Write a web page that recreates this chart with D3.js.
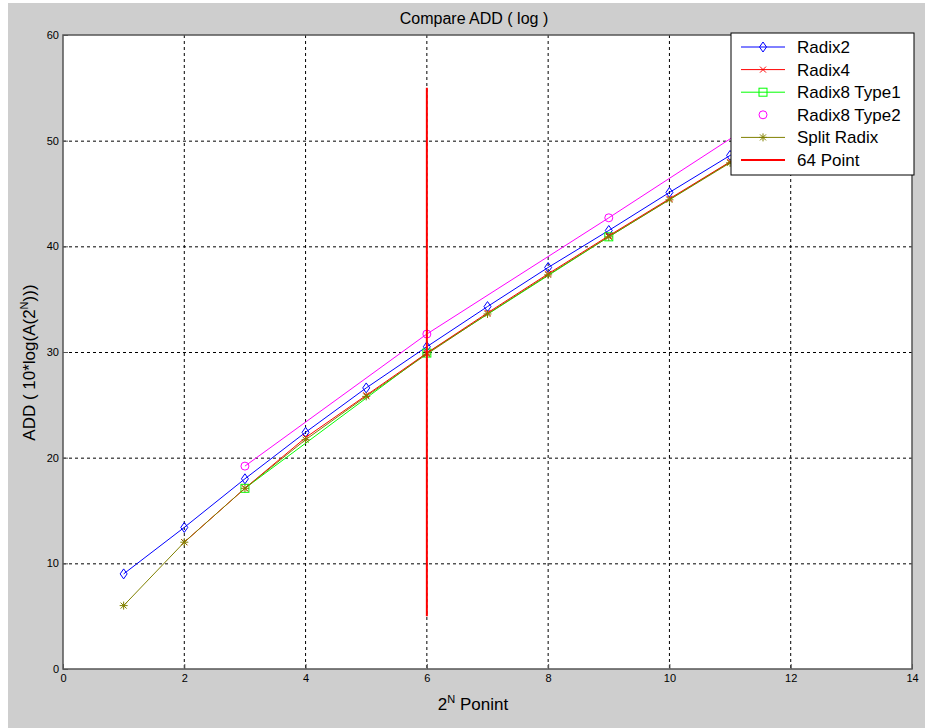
<!DOCTYPE html>
<html>
<head>
<meta charset="utf-8">
<script src="https://cdn.jsdelivr.net/npm/d3@7"></script>
<style>
  body { margin: 0; background: #fff; }
  svg { display: block; font-family: "Liberation Sans", Arial, sans-serif; }
</style>
</head>
<body>
<div id="chart"></div>
<script>
// data
var xRadix2 = [1, 2, 3, 4, 5, 6, 7, 8, 9, 10, 11, 12];
var radix2 = [9.0, 13.4, 18.0, 22.4, 26.6, 30.5, 34.3, 38.0, 41.5, 45.1, 48.6, 52.1];
var xRadix4 = [2, 3, 4, 5, 6, 7, 8, 9, 10, 11, 12];
var radix4 = [12.0, 17.1, 21.9, 25.9, 29.9, 33.7, 37.4, 41.0, 44.5, 48.0, 51.5];
var xRadix8 = [3, 6, 9, 12];
var radix8t1 = [17.1, 29.9, 40.9, 51.5];
var radix8t2 = [19.2, 31.7, 42.7, 53.9];
var xSplit = [1, 2, 3, 4, 5, 6, 7, 8, 9, 10, 11, 12];
var split = [6.0, 12.0, 17.1, 21.7, 25.8, 29.8, 33.6, 37.3, 40.9, 44.4, 47.9, 51.4];
var pointLineX = 6, pointLineY = [5, 55];
var xTicks = [0, 2, 4, 6, 8, 10, 12, 14];
var yTicks = [0, 10, 20, 30, 40, 50, 60];
var legendNames = ["Radix2", "Radix4", "Radix8 Type1", "Radix8 Type2", "Split Radix", "64 Point"];

var width = 925, height = 728;
var svg = d3.select("#chart").append("svg")
    .attr("width", width)
    .attr("height", height);

svg.append("rect").attr("x", 8).attr("y", 3).attr("width", width - 8).attr("height", height - 3)
    .attr("fill", "#cecece");

var pLeft = 63, pRight = 912, pTop = 35, pBottom = 669;
var x = d3.scaleLinear().domain([0, 14]).range([pLeft, pRight]);
var y = d3.scaleLinear().domain([0, 60]).range([pBottom, pTop]);

svg.append("rect").attr("x", pLeft).attr("y", pTop).attr("width", pRight - pLeft).attr("height", pBottom - pTop)
    .attr("fill", "#fff");

// grid
var grid = svg.append("g");
grid.selectAll("line.vx").data(xTicks.slice(1, -1)).enter().append("line")
    .attr("x1", d => x(d)).attr("x2", d => x(d)).attr("y1", pTop).attr("y2", pBottom)
    .attr("stroke", "#000").attr("stroke-width", 1).attr("stroke-dasharray", "3,3");
grid.selectAll("line.hy").data(yTicks.slice(1, -1)).enter().append("line")
    .attr("y1", d => y(d) + 0.5).attr("y2", d => y(d) + 0.5).attr("x1", pLeft).attr("x2", pRight)
    .attr("stroke", "#000").attr("stroke-width", 1).attr("stroke-dasharray", "3,3");

// axes, matlab style inward ticks
var xAxis = d3.axisBottom(x).tickValues(xTicks).tickSize(-5).tickPadding(4).tickSizeOuter(0);
var yAxis = d3.axisLeft(y).tickValues(yTicks).tickSize(-5).tickPadding(4).tickSizeOuter(0);
var gx = svg.append("g").attr("transform", "translate(0," + pBottom + ")").call(xAxis);
var gy = svg.append("g").attr("transform", "translate(" + pLeft + ",0)").call(yAxis);
[gx, gy].forEach(function(g) {
  g.select(".domain").remove();
  g.selectAll("line").attr("stroke", "#555");
  g.selectAll("text").attr("font-size", 11).attr("fill", "#000")
      .style("font-stretch", "condensed").attr("font-family", "'Liberation Sans Narrow', 'Liberation Sans', sans-serif");
});
gx.selectAll("text").attr("dy", "0.8em");
// box
svg.append("rect").attr("x", pLeft).attr("y", pTop).attr("width", pRight - pLeft).attr("height", pBottom - pTop)
    .attr("fill", "none").attr("stroke", "#555").attr("stroke-width", 1.5);

var lineGen = d3.line().x(d => x(d[0])).y(d => y(d[1]));
var plot = svg.append("g");

function series(xs, ys, color, marker, drawLine) {
  var pts = xs.map((v, i) => [v, ys[i]]);
  if (drawLine) plot.append("path").datum(pts).attr("d", lineGen)
      .attr("fill", "none").attr("stroke", color).attr("stroke-width", 1);
  var g = plot.append("g");
  pts.forEach(function(p) { drawMarker(g, x(p[0]), y(p[1]), color, marker); });
}

function drawMarker(g, cx, cy, color, marker) {
  if (marker == "diamond") {
    g.append("path").attr("d", "M" + cx + "," + (cy - 5) + "L" + (cx + 3.5) + "," + cy + "L" + cx + "," + (cy + 5) + "L" + (cx - 3.5) + "," + cy + "Z")
      .attr("fill", "none").attr("stroke", color);
  } else if (marker == "x") {
    g.append("path").attr("d", "M" + (cx - 3) + "," + (cy - 3) + "L" + (cx + 3) + "," + (cy + 3) + "M" + (cx - 3) + "," + (cy + 3) + "L" + (cx + 3) + "," + (cy - 3))
      .attr("stroke", color);
  } else if (marker == "square") {
    g.append("rect").attr("x", cx - 4).attr("y", cy - 4).attr("width", 8).attr("height", 8)
      .attr("fill", "none").attr("stroke", color);
  } else if (marker == "circle") {
    g.append("circle").attr("cx", cx).attr("cy", cy).attr("r", 4)
      .attr("fill", "none").attr("stroke", color);
  } else if (marker == "star") {
    g.append("path").attr("d", "M" + (cx - 4) + "," + cy + "L" + (cx + 4) + "," + cy + "M" + cx + "," + (cy - 4) + "L" + cx + "," + (cy + 4)
      + "M" + (cx - 3) + "," + (cy - 3) + "L" + (cx + 3) + "," + (cy + 3) + "M" + (cx - 3) + "," + (cy + 3) + "L" + (cx + 3) + "," + (cy - 3))
      .attr("stroke", color);
  }
}

var colors = ["#0000ff", "#ff0000", "#00ff00", "#ff00ff", "#808000", "#ff0000"];
var markers = ["diamond", "x", "square", "circle", "star", null];

series(xRadix8, radix8t2, colors[3], "circle", true);
series(xRadix2, radix2, colors[0], "diamond", true);
series(xRadix8, radix8t1, colors[2], "square", true);
series(xRadix4, radix4, colors[1], "x", true);
series(xSplit, split, colors[4], "star", true);

plot.append("line").attr("x1", x(pointLineX)).attr("x2", x(pointLineX))
    .attr("y1", y(pointLineY[0])).attr("y2", y(pointLineY[1]))
    .attr("stroke", colors[5]).attr("stroke-width", 2);

// legend
var lg = svg.append("g").attr("transform", "translate(731,33)");
lg.append("rect").attr("width", 183).attr("height", 142).attr("fill", "#fff").attr("stroke", "#000");
legendNames.forEach(function(name, i) {
  var ly = 14 + i * 22.6;
  lg.append("line").attr("x1", 10).attr("x2", 54).attr("y1", ly).attr("y2", ly)
    .attr("stroke", colors[i]).attr("stroke-width", i == 5 ? 2 : 1)
    .attr("stroke-opacity", i == 3 ? 0 : 1);
  if (markers[i]) drawMarker(lg, 32, ly, colors[i], markers[i]);
  lg.append("text").attr("x", 66).attr("y", ly + 6).attr("font-size", 17).text(name);
});

// titles
svg.append("text").attr("x", 474).attr("y", 24).attr("text-anchor", "middle")
    .attr("font-size", 16).text("Compare ADD ( log )");

var xl = svg.append("text").attr("x", 473).attr("y", 710).attr("text-anchor", "middle").attr("font-size", 17);
xl.append("tspan").text("2");
xl.append("tspan").attr("dy", -7).attr("font-size", 11).text("N");
xl.append("tspan").attr("dy", 7).text(" Ponint");

var yl = svg.append("text").attr("transform", "translate(35," + y(29) + ") rotate(-90)")
    .attr("text-anchor", "middle").attr("font-size", 17);
yl.append("tspan").text("ADD ( 10*log(A(2");
yl.append("tspan").attr("dy", -7).attr("font-size", 11).text("N");
yl.append("tspan").attr("dy", 7).text(")))");
</script>
</body>
</html>
